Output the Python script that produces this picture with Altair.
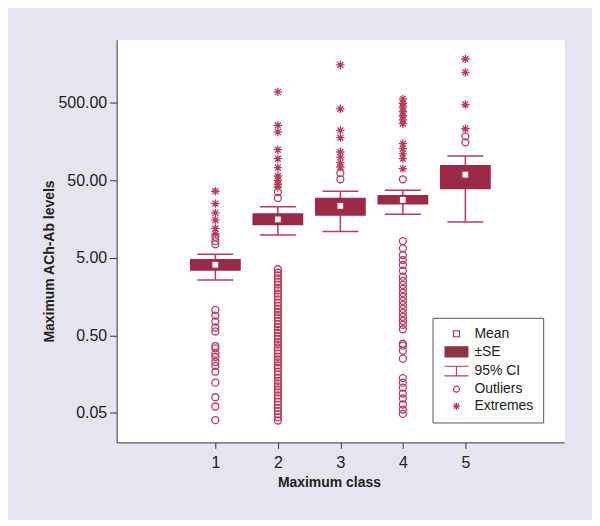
import altair as alt
import pandas as pd

# ---------------- data ----------------
classes = [1, 2, 3, 4, 5]
mean_vals = [4.06, 15.6, 23.3, 27.8, 58.8]
se_low = [3.40, 13.1, 17.3, 24.2, 38.1]
se_high = [4.81, 18.7, 29.5, 32.2, 78.1]
ci_low = [2.59, 9.78, 10.9, 18.2, 14.4]
ci_high = [5.53, 22.6, 35.9, 37.0, 102.0]

outliers_1 = [9.30, 8.19, 7.43, 1.066, 0.900, 0.754, 0.631, 0.561, 0.364, 0.340,
              0.290, 0.263, 0.227, 0.202, 0.170, 0.123, 0.0798, 0.0606, 0.0404]
extremes_1 = [35.9, 24.9, 18.9, 15.2, 11.9, 10.1]

outliers_2 = [35.2, 29.4,
              3.55, 3.2, 2.95, 2.7, 2.45, 2.25, 2.05, 1.9, 1.72, 1.58, 1.45, 1.32,
              1.2, 1.1, 1.0, 0.92, 0.85, 0.77, 0.70, 0.64, 0.59, 0.54, 0.49, 0.45,
              0.41, 0.38, 0.35, 0.32, 0.29, 0.265, 0.245, 0.225, 0.205, 0.19, 0.17,
              0.156, 0.143, 0.13, 0.12, 0.11, 0.1, 0.092, 0.084, 0.077, 0.07,
              0.064, 0.058, 0.053, 0.048, 0.044, 0.04]
extremes_2 = [684, 253, 207, 123, 94.4, 72.3, 56.4, 49.7, 44.2, 40.4]

outliers_3 = [61.7, 51.2]
extremes_3 = [1519, 414, 218, 176, 115, 98.9, 83.9, 73.7]

outliers_4 = [51.2, 8.19, 6.60, 5.42, 4.67, 4.03, 3.40, 2.85, 2.51, 2.23, 1.98,
              1.76, 1.565, 1.39, 1.235, 1.098, 0.975, 0.867, 0.770, 0.684, 0.599,
              0.390, 0.368, 0.317, 0.250, 0.1407, 0.123, 0.106, 0.089, 0.0768,
              0.0643, 0.0554, 0.0486]
extremes_4 = [556, 488, 434, 382, 337, 299, 266, 147, 127, 109, 94.4, 70.2]

outliers_5 = [183, 153]
extremes_5 = [1814, 1221, 470, 229]

kinds = ["Mean", "±SE", "95% CI", "Outliers", "Extremes"]
y_ticks = [0.05, 0.5, 5, 50, 500]

# ---------------- tables ----------------
summary = pd.DataFrame({
    "cls": classes, "mean": mean_vals,
    "se_lo": se_low, "se_hi": se_high,
    "ci_lo": ci_low, "ci_hi": ci_high,
})

rows = []
for c, m in zip(classes, mean_vals):
    rows.append({"cls": c, "val": m, "kind": "Mean"})
for c, outs, exts in zip(classes,
                         [outliers_1, outliers_2, outliers_3, outliers_4, outliers_5],
                         [extremes_1, extremes_2, extremes_3, extremes_4, extremes_5]):
    for v in outs:
        rows.append({"cls": c, "val": v, "kind": "Outliers"})
    for v in exts:
        rows.append({"cls": c, "val": v, "kind": "Extremes"})
points = pd.DataFrame(rows)

# ---------------- styling ----------------
BOX = "#9c2a46"
LINE = "#b53d5b"
FONT = "Liberation Sans"
LABEL_SIZE = 16

xscale = alt.Scale(domain=[-0.5, 6.5], nice=False, zero=False)
yscale = alt.Scale(type="log", domain=[0.0209, 3208], nice=False)

xax = alt.Axis(values=classes, format="d", grid=False, title="Maximum class",
               tickSize=6, labelPadding=6, titleX=213, titleY=44,
               labelFont=FONT, labelFontSize=LABEL_SIZE, labelColor="#222",
               titleFont=FONT, titleFontSize=14, titleFontWeight="bold", titleColor="#222",
               domainColor="#333", tickColor="#333",
               titleBaseline="alphabetic", titleAnchor="start", titleAlign="center")
yax = alt.Axis(values=y_ticks, format=".2f", grid=False, title="Maximum ACh-Ab levels",
               tickSize=7, labelPadding=3, titleX=-63, titleY=222,
               labelFont=FONT, labelFontSize=LABEL_SIZE, labelColor="#222",
               titleFont=FONT, titleFontSize=14, titleFontWeight="bold", titleColor="#222",
               domainColor="#333", tickColor="#333",
               titleBaseline="alphabetic", titleAlign="center", titleAngle=-90)


def X():
    return alt.X("cls:Q", scale=xscale, axis=xax)


def Y(field):
    return alt.Y(field, scale=yscale, axis=yax)


whisker = alt.Chart(summary).mark_rule(color=LINE, strokeWidth=1.5).encode(
    x=X(), y=Y("ci_lo:Q"), y2="ci_hi:Q",
)
cap_hi = alt.Chart(summary).mark_tick(orient="horizontal", size=36, thickness=1.5,
                                      color=LINE, opacity=1).encode(
    x=X(), y=Y("ci_hi:Q"),
)
cap_lo = alt.Chart(summary).mark_tick(orient="horizontal", size=36, thickness=1.5,
                                      color=LINE, opacity=1).encode(
    x=X(), y=Y("ci_lo:Q"),
)
box = alt.Chart(summary).mark_bar(size=51, color=BOX, opacity=1).encode(
    x=X(), y=Y("se_lo:Q"), y2="se_hi:Q",
)

shape_range = [
    "square",
    "M-3.8,-1.7H3.8V1.7H-3.8Z",
    "M-4,-1.6H4M0,-1.6V1.6M-4,1.6H4",
    "circle",
    "M-1.2,0H1.2M0,-1.2V1.2M-0.85,-0.85L0.85,0.85M-0.85,0.85L0.85,-0.85",
]
fill_range = ["white", "#8c3441", "transparent", "transparent", LINE]
stroke_range = ["#a83250", "#8c3441", LINE, LINE, LINE]

legend = alt.Legend(title=None, orient="none", legendX=317, legendY=279,
                    padding=9, fillColor="white", strokeColor="#555",
                    symbolSize=36, symbolStrokeWidth=1.2, symbolOffset=8,
                    labelOffset=11, rowPadding=3.2, labelFont=FONT,
                    labelFontSize=14, labelColor="#222", symbolOpacity=1)

pts = alt.Chart(points).mark_point(filled=True, opacity=1, size=49, strokeWidth=1.3).encode(
    x=X(),
    y=Y("val:Q"),
    shape=alt.Shape("kind:N", scale=alt.Scale(domain=kinds, range=shape_range), legend=legend),
    fill=alt.Fill("kind:N", scale=alt.Scale(domain=kinds, range=fill_range), legend=legend),
    stroke=alt.Stroke("kind:N", scale=alt.Scale(domain=kinds, range=stroke_range), legend=legend),
)

chart = alt.layer(whisker, cap_hi, cap_lo, box, pts).properties(
    width=449, height=404,
    padding={"left": 109, "top": 31, "right": 28, "bottom": 77},
    autosize=alt.AutoSizeParams(type="none"),
).configure(
    background="#e6e4f1",
    style={"guide-label": {"fontSize": LABEL_SIZE, "font": FONT}},
).configure_view(
    fill="white", stroke="transparent",
).configure_axis(
    domainColor="#333", tickColor="#333", labelColor="#222", titleColor="#222",
    labelFont=FONT, titleFont=FONT, labelFontSize=LABEL_SIZE, titleFontSize=14,
    titleFontWeight="bold", domainWidth=1, tickWidth=1,
)

chart.save("out.html", embed_options={"renderer": "svg", "actions": False})
